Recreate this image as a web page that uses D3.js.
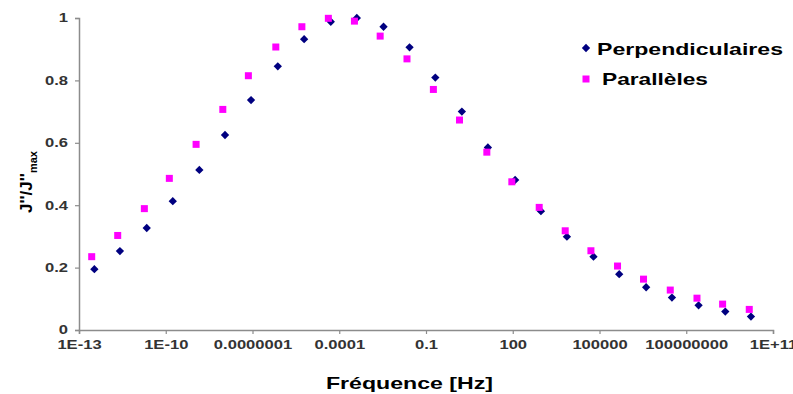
<!DOCTYPE html>
<html><head><meta charset="utf-8">
<script src="https://cdn.jsdelivr.net/npm/d3@7"></script>
<style>body{margin:0;background:#fff}svg{display:block}text{font-family:"Liberation Sans",Arial,sans-serif;font-weight:bold}</style>
</head><body><svg id="c" width="793" height="394"></svg>
<script>
const perpFreq = [3.4e-13,2.6e-12,2.2e-11,1.75e-10,1.45e-9,1.12e-8,8.9e-8,7.5e-7,6.1e-6,5.1e-5,4.05e-4,3.4e-3,2.7e-2,0.21,1.74,13.8,121,942,7470,6.2e4,4.8e5,4.1e6,3.2e7,2.67e8,2.24e9,1.73e10];
const perpVal = [0.195,0.253,0.327,0.413,0.513,0.625,0.737,0.845,0.932,0.988,1.0,0.972,0.906,0.809,0.700,0.585,0.481,0.381,0.299,0.235,0.179,0.137,0.104,0.079,0.059,0.043];
const paraFreq = [2.75e-13,2.18e-12,1.82e-11,1.33e-10,1.12e-9,9.4e-9,7.2e-8,6.4e-7,5.1e-6,4.2e-5,3.35e-4,2.6e-3,2.2e-2,0.18,1.44,12.7,93,822,6520,5.05e4,4.2e5,3.33e6,2.8e7,2.35e8,1.81e9,1.51e10];
const paraVal = [0.235,0.303,0.389,0.486,0.595,0.707,0.815,0.907,0.972,0.999,0.99,0.942,0.869,0.771,0.673,0.570,0.475,0.393,0.318,0.254,0.205,0.163,0.128,0.102,0.083,0.066];
const xTicks = [1e-13,1e-10,1e-7,1e-4,0.1,100,1e5,1e8,1e11];
const xTickLabels = ["1E-13","1E-10","0.0000001","0.0001","0.1","100","100000","100000000","1E+11"];
const yTicks = [0,0.2,0.4,0.6,0.8,1];
const yTickLabels = ["0","0.2","0.4","0.6","0.8","1"];
const seriesNames = ["Perpendiculaires","Parallèles"];

const svg = d3.select("#c");
const x = d3.scaleLog().domain([1e-13,1e11]).range([79,773]);
const y = d3.scaleLinear().domain([0,1]).range([330,18]);
const stretch = 1.38;
function widen(sel){ sel.each(function(){ const w=this.getComputedTextLength(); d3.select(this).attr("textLength",w*stretch).attr("lengthAdjust","spacingAndGlyphs"); }); }

const axisCol = "#8c8c8c";
const xa = svg.append("g").attr("transform","translate(0,330)")
  .call(d3.axisBottom(x).tickValues(xTicks).tickFormat((d,i)=>xTickLabels[i]).tickSize(4).tickPadding(6));
const ya = svg.append("g").attr("transform","translate(79,0)")
  .call(d3.axisLeft(y).tickValues(yTicks).tickFormat((d,i)=>yTickLabels[i]).tickSize(4).tickPadding(7));
[xa,ya].forEach(g=>{
  g.select(".domain").attr("stroke",axisCol).attr("stroke-width",1.5);
  g.selectAll(".tick line").attr("stroke",axisCol).attr("stroke-width",1.2);
  g.selectAll(".tick text").attr("fill","#333").style("font-size","12px").style("font-family","'Liberation Sans',Arial,sans-serif").style("font-weight","bold");
});
widen(xa.selectAll(".tick text"));
widen(ya.selectAll(".tick text"));

const diamond = d3.symbol().type(d3.symbolDiamond2).size(44);
svg.append("g").selectAll("path").data(perpFreq.map((f,i)=>[f,perpVal[i]])).join("path")
  .attr("d",diamond).attr("transform",d=>`translate(${x(d[0])},${y(d[1])})`).attr("fill","#000080");
svg.append("g").selectAll("rect").data(paraFreq.map((f,i)=>[f,paraVal[i]])).join("rect")
  .attr("x",d=>x(d[0])-3.5).attr("y",d=>y(d[1])-3.5).attr("width",7).attr("height",7).attr("fill","#ff00ff");

// legend
svg.append("path").attr("d",diamond).attr("transform","translate(586,48)").attr("fill","#000080");
svg.append("text").attr("x",597).attr("y",55).attr("font-size",17).attr("fill","#000")
  .attr("textLength",186).attr("lengthAdjust","spacingAndGlyphs").text(seriesNames[0]);
svg.append("rect").attr("x",582.5).attr("y",75.5).attr("width",7).attr("height",7).attr("fill","#ff00ff");
svg.append("text").attr("x",602).attr("y",85).attr("font-size",17).attr("fill","#000")
  .attr("textLength",106).attr("lengthAdjust","spacingAndGlyphs").text(seriesNames[1]);

// axis titles
svg.append("text").attr("x",326).attr("y",389).attr("font-size",17).attr("fill","#000")
  .attr("textLength",167).attr("lengthAdjust","spacingAndGlyphs").text("Fréquence [Hz]");
const yt = svg.append("text").attr("transform","translate(32,182) rotate(-90)").attr("text-anchor","middle").attr("font-size",17).attr("fill","#000");
yt.append("tspan").text("J''/J''");
yt.append("tspan").attr("font-size",11).attr("dy",5).text("max");
</script></body></html>
